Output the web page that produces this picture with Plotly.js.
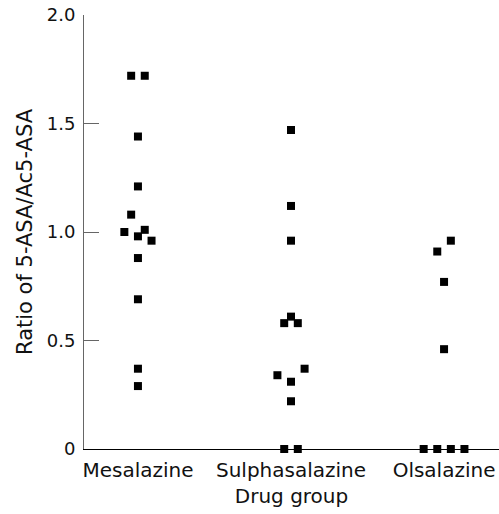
<!DOCTYPE html>
<html>
<head>
<meta charset="utf-8">
<script src="https://cdn.plot.ly/plotly-3.0.1.min.js"></script>
<style>html,body{margin:0;padding:0;background:#fff;}#chart{width:499px;height:514px;}</style>
</head>
<body>
<div id="chart"></div>
<script>
// Categories and values
const categories = ['Mesalazine', 'Sulphasalazine', 'Olsalazine'];
const mesalazine = [1.72, 1.72, 1.44, 1.21, 1.08, 1.00, 1.01, 0.98, 0.96, 0.88, 0.69, 0.37, 0.29];
const sulphasalazine = [1.47, 1.12, 0.96, 0.61, 0.58, 0.58, 0.37, 0.34, 0.31, 0.22, 0, 0];
const olsalazine = [0.96, 0.91, 0.77, 0.46, 0, 0, 0, 0];
// dodge slot of each point (beeswarm side-by-side placement)
const mesalazineSlot = [-1, 1, 0, 0, -1, -2, 1, 0, 2, 0, 0, 0, 0];
const sulphasalazineSlot = [0, 0, 0, 0, -1, 1, 2, -2, 0, 0, -1, 1];
const olsalazineSlot = [1, -1, 0, 0, -3, -1, 1, 3];
const yTickVals = [0, 0.5, 1.0, 1.5, 2.0];
const yTickText = ['0', '0.5', '1.0', '1.5', '2.0'];

const groups = [mesalazine, sulphasalazine, olsalazine];
const slots = [mesalazineSlot, sulphasalazineSlot, olsalazineSlot];
const step = 0.0444;
const FONT = 'DejaVu Sans, sans-serif';

const traces = groups.map((vals, gi) => ({
  type: 'scatter',
  mode: 'markers',
  x: vals.map((v, i) => gi + slots[gi][i] * step),
  y: vals,
  cliponaxis: false,
  marker: {symbol: 'square', size: 8, color: '#000', line: {width: 0}},
  hoverinfo: 'skip',
  showlegend: false
}));

const layout = {
  width: 499, height: 514,
  margin: {l: 84, r: 0, t: 15, b: 65},
  paper_bgcolor: '#fff', plot_bgcolor: '#fff',
  showlegend: false,
  font: {family: FONT, color: '#000'},
  xaxis: {
    range: [-0.3525, 2.359],
    showgrid: false, zeroline: false,
    showline: true, linecolor: '#000', linewidth: 1,
    tickvals: [0, 1, 2], ticktext: categories,
    ticks: '', ticklabelstandoff: 3,
    tickfont: {family: FONT, size: 20, color: '#111'},
    title: {text: 'Drug group', font: {family: FONT, size: 20, color: '#111'}, standoff: 7},
    fixedrange: true
  },
  yaxis: {
    range: [0, 2.0],
    showgrid: false, zeroline: false,
    showline: true, linecolor: '#666', linewidth: 1,
    tickvals: yTickVals, ticktext: yTickText,
    ticks: 'inside', ticklen: 15, tickcolor: '#666', tickwidth: 1,
    ticklabelstandoff: 4,
    tickfont: {family: FONT, size: 18, color: '#111'},
    title: {text: 'Ratio of 5-ASA/Ac5-ASA', font: {family: FONT, size: 21, color: '#111'}, standoff: 8},
    fixedrange: true
  }
};

Plotly.newPlot('chart', traces, layout, {displayModeBar: false, staticPlot: true});
</script>
</body>
</html>
